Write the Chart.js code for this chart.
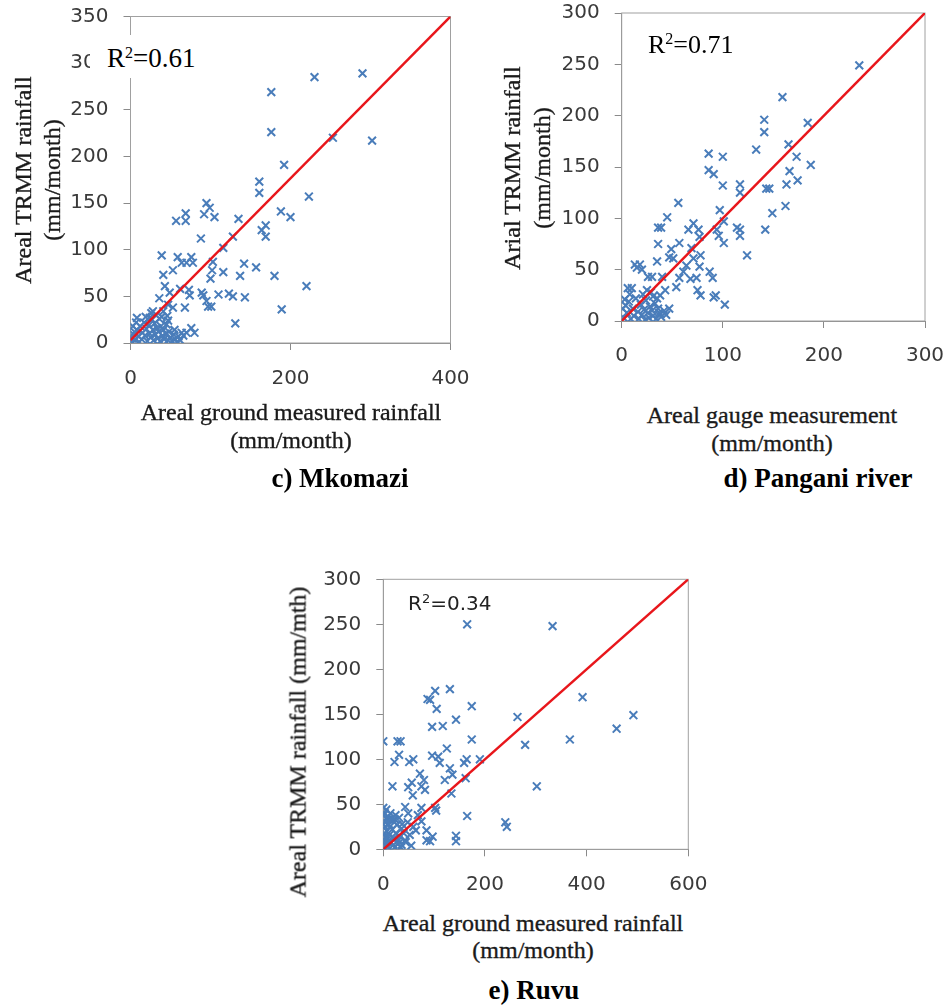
<!DOCTYPE html>
<html>
<head>
<meta charset="utf-8">
<script src="https://cdn.jsdelivr.net/npm/chart.js@4/dist/chart.umd.min.js"></script>
<style>
  body { margin: 0; background: #fff; }
  #page { position: relative; width: 948px; height: 1006px; overflow: hidden; background: #fff; }
  canvas { position: absolute; }
  .lbl { position: absolute; white-space: nowrap; transform: translate(-50%, -50%); font-family: "Liberation Serif", serif; color: #1a1a1a; -webkit-text-stroke: 0.35px #1a1a1a; }
  .rot { transform: translate(-50%, -50%) rotate(-90deg); }
  .ttl { font-size: 24px; }
  .cap { font-size: 27px; font-weight: bold; color: #000; -webkit-text-stroke: 0; }
  .r2 { position: absolute; white-space: nowrap; font-family: "Liberation Serif", serif; font-size: 27px; color: #000; }
  .r2 sup { font-size: 16px; vertical-align: 0.55em; line-height: 0; }
</style>
</head>
<body>
<div id="page">
  <canvas id="cMk" width="480" height="400" style="left:0;top:0"></canvas>
  <canvas id="cPa" width="468" height="380" style="left:480px;top:0"></canvas>
  <canvas id="cRu" width="450" height="330" style="left:270px;top:560px"></canvas>

  <div class="lbl rot ttl" style="left:23px;top:180px">Areal TRMM rainfall</div>
  <div class="lbl rot ttl" style="left:52px;top:180px">(mm/month)</div>
  <div class="lbl ttl" style="left:291px;top:412px">Areal ground measured rainfall</div>
  <div class="lbl ttl" style="left:291px;top:440px">(mm/month)</div>
  <div class="r2" style="left:90px;top:35px;width:115px;height:43px;background:#fff;padding-left:17px;box-sizing:border-box;line-height:46px">R<sup>2</sup>=0.61</div>
  <div class="lbl cap" style="left:340px;top:478px">c) Mkomazi</div>

  <div class="lbl rot ttl" style="left:512px;top:168px">Arial TRMM rainfall</div>
  <div class="lbl rot ttl" style="left:542px;top:168px">(mm/month)</div>
  <div class="lbl ttl" style="left:772px;top:415px">Areal gauge measurement</div>
  <div class="lbl ttl" style="left:772px;top:443px">(mm/month)</div>
  <div class="r2" style="left:648px;top:30px;line-height:30px;font-size:26px">R<sup>2</sup>=0.71</div>
  <div class="lbl cap" style="left:818px;top:478px">d) Pangani river</div>

  <div class="lbl rot ttl" style="left:298px;top:742px">Areal TRMM rainfall (mm/mth)</div>
  <div class="lbl ttl" style="left:533px;top:923px">Areal ground measured rainfall</div>
  <div class="lbl ttl" style="left:533px;top:950px">(mm/month)</div>
  <div class="r2" style="left:408px;top:591px;line-height:24px;font-family:'DejaVu Sans',sans-serif;font-size:20px;color:#222">R<sup style="font-size:13px">2</sup>=0.34</div>
  <div class="lbl cap" style="left:534px;top:990px">e) Ruvu</div>
</div>
<script>
// c) Mkomazi - areal ground measured vs TRMM (mm/month)
const mkGround = [230, 290, 176, 176, 253, 302, 192, 161, 161, 223, 188, 200, 169, 164, 169, 135, 128, 116, 95, 92,
  99, 105, 69, 69, 57, 88, 39, 59, 76, 64, 78, 70, 103, 142, 157, 180, 137, 102, 116, 100,
  220, 41, 53, 43, 110, 123, 128, 143, 89, 91, 73, 62, 74, 68, 95, 101, 97, 189, 131, 36,
  49, 47, 53, 41, 47, 28, 24, 8, 76, 80, 70, 64,
  2, 4, 6, 8, 10, 12, 14, 15, 17, 18, 20, 21, 23, 24, 25, 27, 28, 29, 30, 31,
  32, 33, 34, 35, 36, 37, 38, 40, 41, 42, 44, 45, 47, 48, 50, 52, 54, 56, 58, 60,
  3, 7, 11, 19, 26, 39, 46, 55, 62, 66, 1, 5];
const mkTrmm = [285, 289, 269, 226, 220, 217, 191, 173, 161, 157, 141, 135, 126, 121, 114, 133, 114, 102, 150, 138,
  145, 135, 139, 131, 131, 112, 94, 92, 92, 86, 86, 86, 87, 85, 81, 72, 72, 78, 76, 69,
  61, 73, 78, 61, 52, 53, 50, 49, 54, 51, 57, 58, 51, 38, 45, 39, 39, 36, 21, 48,
  54, 41, 38, 34, 24, 34, 27, 27, 16, 11, 11, 11,
  5, 9, 3, 14, 7, 18, 4, 11, 22, 8, 15, 2, 19, 10, 6, 25, 14, 3, 21, 9,
  30, 16, 5, 12, 26, 2, 18, 8, 14, 4, 10, 20, 3, 12, 6, 2, 9, 4, 1, 7,
  18, 22, 1, 28, 32, 28, 29, 14, 3, 8, 1, 12];
const mkFit = [[0, 3], [400, 350]];

// d) Pangani river - areal gauge vs TRMM (mm/month)
const paGauge = [235, 159, 141, 141, 184, 133, 165, 173, 187, 166, 174, 163, 143, 146, 162, 149, 142, 86, 86, 91,
  100, 100, 117, 117, 97, 101, 94, 96, 101, 114, 117, 117, 124, 56, 45, 36, 39, 36, 57, 49,
  47, 51, 71, 66, 76, 77, 69, 78, 71, 64, 68, 57, 61, 54, 77, 74, 75, 78, 87, 90,
  93, 91, 102, 18, 10, 35, 30, 40, 43, 47, 38, 31, 25, 38, 13, 20, 15, 26, 8, 6,
  2, 4, 5, 7, 9, 11, 12, 14, 16, 17, 19, 20, 22, 23, 24, 26, 27, 28, 30, 31,
  33, 34, 36, 37, 39, 42, 44, 3, 1, 21, 29, 35];
const paTrmm = [249, 218, 196, 184, 193, 167, 172, 160, 152, 146, 137, 133, 129, 129, 112, 105, 89, 163, 147, 143,
  160, 132, 133, 125, 108, 97, 89, 83, 76, 91, 89, 83, 64, 115, 101, 91, 91, 75, 76, 70,
  62, 61, 95, 89, 89, 82, 71, 64, 61, 54, 41, 42, 48, 33, 53, 42, 30, 25, 48, 42,
  25, 23, 16, 55, 32, 58, 43, 43, 30, 12, 25, 24, 30, 7, 55, 50, 52, 43, 26, 32,
  3, 15, 8, 19, 2, 12, 5, 22, 9, 2, 16, 6, 11, 1, 20, 8, 3, 14, 10, 5,
  17, 2, 12, 8, 4, 10, 6, 21, 12, 26, 28, 22];
const paFit = [[0, 0], [300, 300]];

// e) Ruvu - areal ground measured vs TRMM (mm/mth)
const ruGround = [165, 333, 392, 492, 459, 367, 279, 264, 302, 240, 243, 165, 143, 143, 164, 159, 162, 190, 174, 174,
  143, 131, 102, 87, 92, 105, 96, 117, 125, 131, 136, 134, 121, 96, 108, 111, 0, 28, 34, 31,
  22, 51, 59, 18, 49, 56, 72, 80, 75, 82, 58, 102, 104, 85, 75, 43, 49, 68, 75, 59,
  64, 85, 97, 92, 36, 43, 30, 0, 3, 7, 16, 23, 13, 3, 10, 0, 7, 20, 13, 36,
  1, 2, 3, 4, 5, 6, 7, 8, 9, 10, 11, 12, 14, 15, 17, 18, 20, 22, 24, 25,
  27, 29, 31, 33, 35, 37, 40, 44, 48, 52, 55, 0, 0, 1];
const ruTrmm = [250, 248, 169, 149, 134, 122, 116, 147, 70, 30, 25, 37, 15, 9, 100, 96, 79, 100, 122, 159,
  144, 178, 176, 167, 166, 156, 136, 137, 112, 90, 83, 62, 77, 104, 103, 96, 120, 120, 120, 105,
  97, 97, 100, 70, 69, 74, 84, 77, 70, 66, 60, 46, 43, 21, 46, 47, 40, 38, 31, 25,
  21, 10, 14, 9, 23, 10, 10, 46, 40, 33, 34, 33, 25, 18, 12, 7, 3, 5, 9, 5,
  2, 10, 25, 30, 14, 44, 20, 8, 36, 3, 28, 16, 40, 7, 22, 32, 12, 2, 38, 18,
  27, 6, 35, 14, 2, 28, 18, 8, 30, 16, 4, 28, 15, 38];
const ruFit = [[0, 0], [600, 300]];

const tickFont = { family: 'DejaVu Sans', size: 20 };
const tickColor = '#3a3a3a';
const axisGray = '#8a8a8a';
const markBlue = '#4a7dba';

// plot area border (top and right edges too)
const frame = {
  id: 'frame',
  beforeDatasetsDraw(chart) {
    const a = chart.chartArea;
    const ctx = chart.ctx;
    ctx.save();
    ctx.strokeStyle = '#a0a0a0';
    ctx.lineWidth = 1;
    ctx.strokeRect(a.left, a.top, a.right - a.left, a.bottom - a.top);
    ctx.restore();
  }
};

function makeChart(id, xs, ys, fit, xMax, xStep, yMax, yStep, box) {
  const pts = xs.map((x, i) => ({ x, y: ys[i] }));
  return new Chart(document.getElementById(id), {
    type: 'scatter',
    data: {
      datasets: [{
        data: pts,
        pointStyle: 'crossRot',
        radius: 5.5,
        borderWidth: 2,
        borderColor: markBlue,
        backgroundColor: markBlue,
        order: 2
      }, {
        type: 'line',
        data: fit.map(p => ({ x: p[0], y: p[1] })),
        borderColor: '#e8161b',
        borderWidth: 2.5,
        pointRadius: 0,
        order: 1
      }]
    },
    options: {
      responsive: false,
      animation: false,
      events: [],
      layout: { padding: { top: box.top, right: box.right, left: 0, bottom: 0 } },
      plugins: { legend: { display: false }, tooltip: { enabled: false } },
      scales: {
        x: {
          type: 'linear', min: 0, max: xMax,
          // fixed plot box: ignore label overhang padding
          afterFit: s => { s.height = box.bottom; s.paddingLeft = 0; s.paddingRight = 0; },
          border: { display: true, color: axisGray },
          grid: { drawOnChartArea: false, drawTicks: true, tickLength: 7, color: axisGray },
          ticks: { stepSize: xStep, font: tickFont, color: tickColor, padding: box.xpad, maxRotation: 0 }
        },
        y: {
          type: 'linear', min: 0, max: yMax,
          afterFit: s => { s.width = box.left; s.paddingTop = 0; s.paddingBottom = 0; },
          border: { display: true, color: axisGray },
          grid: { drawOnChartArea: false, drawTicks: true, tickLength: 7, color: axisGray },
          ticks: { stepSize: yStep, font: tickFont, color: tickColor, padding: 15 }
        }
      }
    },
    plugins: [frame]
  });
}

makeChart('cMk', mkGround, mkTrmm, mkFit, 400, 200, 350, 50, { left: 130.5, top: 16.5, right: 29.5, bottom: 57, xpad: 17 });
makeChart('cPa', paGauge, paTrmm, paFit, 300, 100, 300, 50, { left: 141.7, top: 13, right: 23, bottom: 59, xpad: 16 });
makeChart('cRu', ruGround, ruTrmm, ruFit, 600, 200, 300, 50, { left: 113.3, top: 19.3, right: 31.7, bottom: 40.7, xpad: 16 });
</script>
</body>
</html>
